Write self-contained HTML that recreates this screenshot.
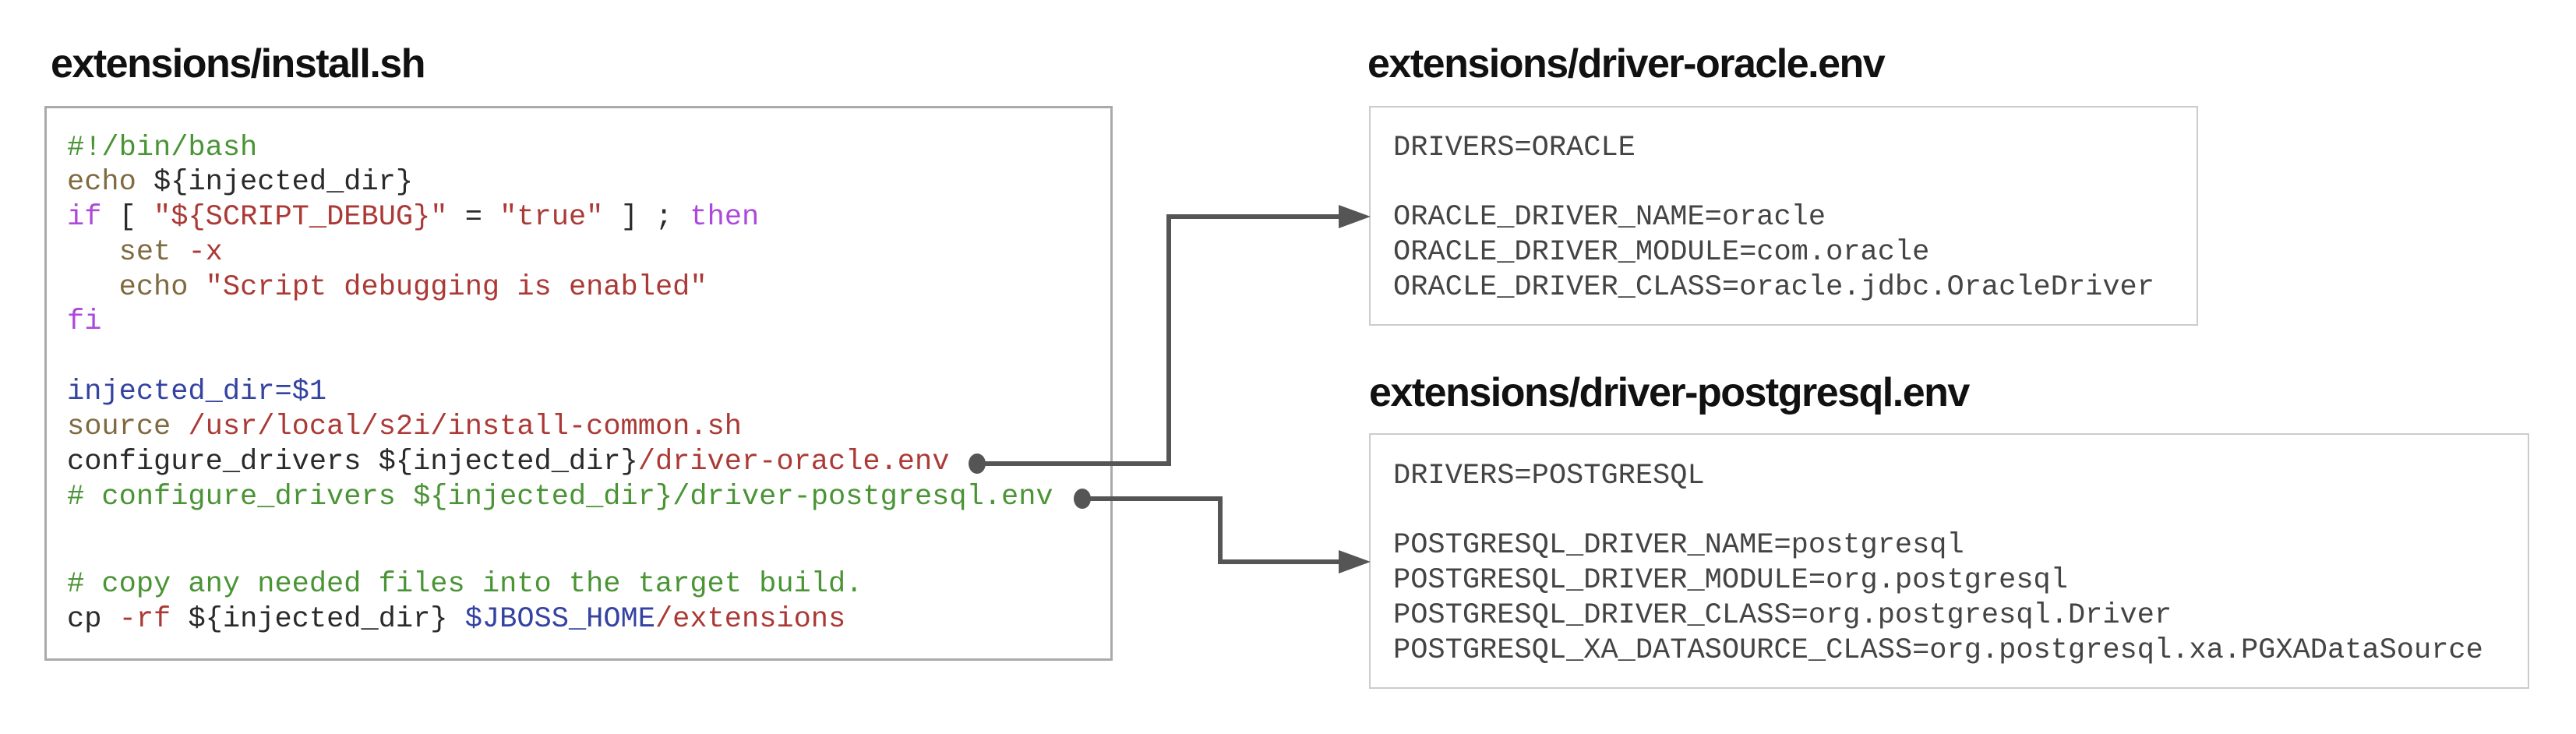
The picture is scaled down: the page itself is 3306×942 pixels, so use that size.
<!DOCTYPE html>
<html><head><meta charset="utf-8"><style>
body{margin:0;width:3306px;height:942px;background:#fff;position:relative;overflow:hidden}
.t{position:absolute;font-family:"Liberation Sans",sans-serif;font-weight:bold;font-size:52px;letter-spacing:-1.5px;color:#111;line-height:60px;white-space:pre}
.box{position:absolute;box-sizing:border-box;background:#fff}
.c{position:absolute;font-family:"Liberation Mono",monospace;font-size:37px;line-height:44px;white-space:pre;color:#2a2a2a}
.g{color:#4a9436}.o{color:#806a40}.r{color:#ab3a36}.p{color:#ad48dc}.b{color:#3443a0}
.e{color:#444}
</style></head><body>
<div class="t" style="left:65px;top:52px">extensions/install.sh</div>
<div class="t" style="left:1755px;top:52px">extensions/driver-oracle.env</div>
<div class="t" style="left:1757px;top:474px">extensions/driver-postgresql.env</div>

<div class="box" style="left:57px;top:136px;width:1371px;height:712px;border:3px solid #aaa"></div>
<div class="box" style="left:1757px;top:136px;width:1064px;height:282px;border:2px solid #ccc"></div>
<div class="box" style="left:1757px;top:556px;width:1489px;height:328px;border:2px solid #ccc"></div>

<div class="c g" style="left:86px;top:168px">#!/bin/bash</div>
<div class="c" style="left:86px;top:212px"><span class="o">echo</span> ${injected_dir}</div>
<div class="c" style="left:86px;top:257px"><span class="p">if</span> [ <span class="r">"${SCRIPT_DEBUG}"</span> = <span class="r">"true"</span> ] ; <span class="p">then</span></div>
<div class="c" style="left:86px;top:302px">   <span class="o">set</span> <span class="r">-x</span></div>
<div class="c" style="left:86px;top:347px">   <span class="o">echo</span> <span class="r">"Script debugging is enabled"</span></div>
<div class="c p" style="left:86px;top:391px">fi</div>
<div class="c b" style="left:86px;top:481px">injected_dir=$1</div>
<div class="c" style="left:86px;top:526px"><span class="o">source</span> <span class="r">/usr/local/s2i/install-common.sh</span></div>
<div class="c" style="left:86px;top:571px">configure_drivers ${injected_dir}<span class="r">/driver-oracle.env</span></div>
<div class="c g" style="left:86px;top:616px"># configure_drivers ${injected_dir}/driver-postgresql.env</div>
<div class="c g" style="left:86px;top:728px"># copy any needed files into the target build.</div>
<div class="c" style="left:86px;top:773px">cp <span class="r">-rf</span> ${injected_dir} <span class="b">$JBOSS_HOME</span><span class="r">/extensions</span></div>

<div class="c e" style="left:1788px;top:168px">DRIVERS=ORACLE</div>
<div class="c e" style="left:1788px;top:257px">ORACLE_DRIVER_NAME=oracle</div>
<div class="c e" style="left:1788px;top:302px">ORACLE_DRIVER_MODULE=com.oracle</div>
<div class="c e" style="left:1788px;top:347px">ORACLE_DRIVER_CLASS=oracle.jdbc.OracleDriver</div>

<div class="c e" style="left:1788px;top:589px">DRIVERS=POSTGRESQL</div>
<div class="c e" style="left:1788px;top:678px">POSTGRESQL_DRIVER_NAME=postgresql</div>
<div class="c e" style="left:1788px;top:723px">POSTGRESQL_DRIVER_MODULE=org.postgresql</div>
<div class="c e" style="left:1788px;top:768px">POSTGRESQL_DRIVER_CLASS=org.postgresql.Driver</div>
<div class="c e" style="left:1788px;top:813px">POSTGRESQL_XA_DATASOURCE_CLASS=org.postgresql.xa.PGXADataSource</div>

<svg style="position:absolute;left:0;top:0" width="3306" height="942">
<g fill="none" stroke="#555" stroke-width="6">
<polyline points="1253,595 1500,595 1500,278 1722,278"/>
<polyline points="1388,640 1566,640 1566,721 1722,721"/>
</g>
<g fill="#555">
<ellipse cx="1254" cy="595" rx="11" ry="13"/>
<ellipse cx="1389" cy="640" rx="11" ry="13"/>
<polygon points="1718,263 1759,278 1718,293"/>
<polygon points="1718,706 1759,721 1718,736"/>
</g>
</svg>
</body></html>
